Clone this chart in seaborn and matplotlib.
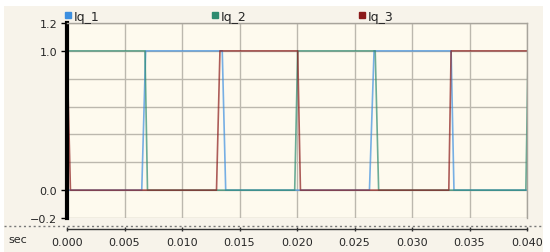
import numpy as np
import pandas as pd
import seaborn as sns
import matplotlib.pyplot as plt
from matplotlib.lines import Line2D
from matplotlib.patches import Rectangle

# Switching signals (time in seconds)
t_iq1 = [0.0, 0.0065, 0.00684, 0.0135, 0.0138, 0.0263, 0.0267, 0.0334, 0.03365, 0.040]
v_iq1 = [0, 0, 1, 1, 0, 0, 1, 1, 0, 0]
t_iq2 = [0.0, 0.00678, 0.0070, 0.0198, 0.02006, 0.0268, 0.0271, 0.0399, 0.0401]
v_iq2 = [1, 1, 0, 0, 1, 1, 0, 0, 1]
t_iq3 = [0.0, 0.0003, 0.0130, 0.0133, 0.02006, 0.0203, 0.0332, 0.0334, 0.040]
v_iq3 = [1, 0, 0, 1, 1, 0, 0, 1, 1]

names = ['Iq_1', 'Iq_2', 'Iq_3']
colors = ['#3d8fe0', '#2e8b70', '#8b1a1a']
x_ticks = [0.000, 0.005, 0.010, 0.015, 0.020, 0.025, 0.030, 0.035, 0.040]
y_labelled = [-0.2, 0.0, 1.0, 1.2]
y_grid_only = [0.2, 0.4, 0.6, 0.8]

df = pd.concat([
    pd.DataFrame({'t': t_iq1, 'v': v_iq1, 'sig': 'Iq_1'}),
    pd.DataFrame({'t': t_iq2, 'v': v_iq2, 'sig': 'Iq_2'}),
    pd.DataFrame({'t': t_iq3, 'v': v_iq3, 'sig': 'Iq_3'}),
])

sns.set_style('white')
plt.rcParams['font.family'] = ['DejaVu Sans']

fig = plt.figure(figsize=(5.5, 2.53), dpi=100, facecolor='white')
# Panel background
fig.patches.append(Rectangle((4 / 550, 0), 539 / 550, 246 / 253, transform=fig.transFigure,
                             facecolor='#f7f3ea', edgecolor='none', zorder=-10))

ax = fig.add_axes([67 / 550, 1 - 219 / 253, 460 / 550, 195 / 253])
ax.set_facecolor('#fefaee')

sns.lineplot(data=df, x='t', y='v', hue='sig', palette=dict(zip(names, colors)),
             estimator=None, sort=False, linewidth=1.2, alpha=0.7, ax=ax, legend=False)

ax.set_xlim(0, 0.040)
ax.set_ylim(-0.2, 1.2)
ax.set_xticks(x_ticks)
ax.set_xticklabels(['%.3f' % x for x in x_ticks])
ax.set_yticks(y_labelled)
ax.set_yticklabels(['\u22120.2', '0.0', '1.0', '1.2'])
ax.set_yticks(y_grid_only, minor=True)
ax.set_xlabel('')
ax.set_ylabel('')
ax.grid(True, which='major', color='#bcb8ae', linewidth=1.0)
ax.grid(True, which='minor', axis='y', color='#bcb8ae', linewidth=1.0)

for s in ['top', 'right']:
    ax.spines[s].set_color('#a8a49c')
    ax.spines[s].set_linewidth(1.0)
ax.spines['left'].set_color('black')
ax.spines['left'].set_linewidth(3)
ax.spines['bottom'].set_position(('outward', 8))
ax.spines['bottom'].set_linestyle((0, (2, 1)))
ax.spines['bottom'].set_linewidth(1.0)
ax.spines['bottom'].set_color('#333333')

ax.tick_params(axis='y', which='major', left=True, length=4, width=1, color='black',
               labelsize=8, pad=3)
ax.tick_params(axis='y', which='minor', left=False, length=0)
ax.tick_params(axis='x', which='major', bottom=True, length=3, width=1, color='#333333',
               direction='inout', labelsize=8, pad=4)

# Faint dotted baseline across the whole panel
fig.lines.append(Line2D([4 / 550, 543 / 550], [1 - 227 / 253, 1 - 227 / 253],
                        transform=fig.transFigure, color='#777777', linewidth=1.0,
                        linestyle=(0, (1.5, 2)), zorder=-5))
fig.text(8 / 550, 1 - 240 / 253, 'sec', fontsize=8, va='center', ha='left')

# Legend across the top
handles = [Line2D([], [], marker='s', linestyle='none', color=c, markersize=5) for c in colors]
leg = fig.legend(handles, names, loc='center left', bbox_to_anchor=(62 / 550, 1 - 17 / 253),
                 ncol=3, frameon=False, fontsize=9, handletextpad=0.05, handlelength=0.9,
                 columnspacing=8.75, borderaxespad=0, borderpad=0)

fig.savefig('out.png', dpi=100, facecolor='white')
